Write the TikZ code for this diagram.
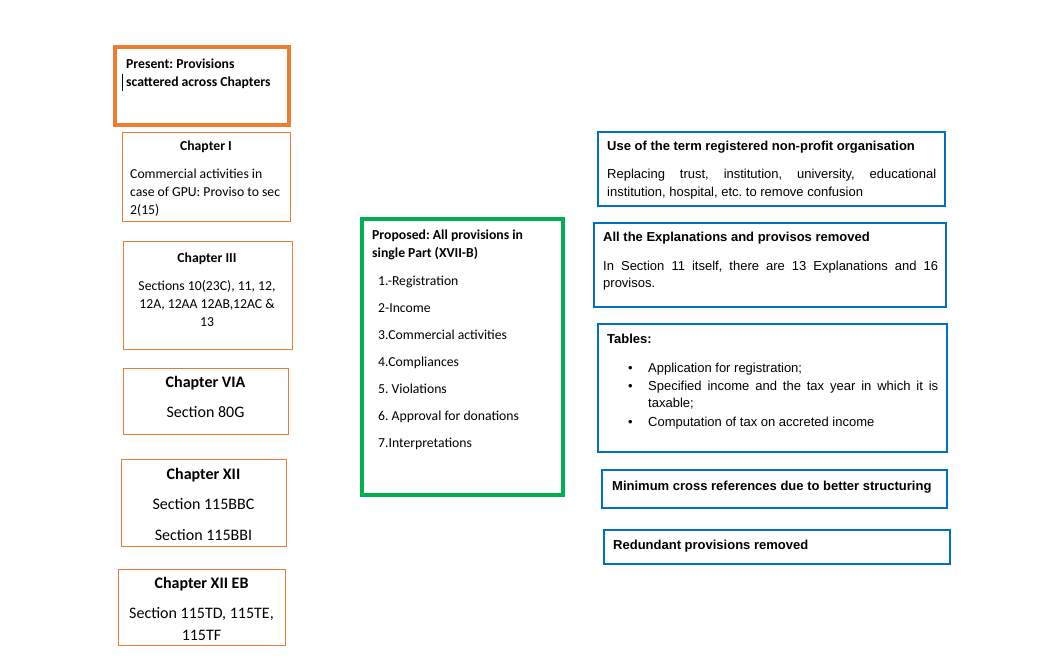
\documentclass[tikz,border=0pt]{standalone}
\usepackage{fontspec}
\setmainfont{Carlito}
\newfontfamily\rfont{Liberation Sans}
\definecolor{orng}{HTML}{ED7D31}
\definecolor{grn}{HTML}{00B050}
\definecolor{blu}{HTML}{0070C0}
\frenchspacing
\hyphenpenalty=10000
\begin{document}
\begin{tikzpicture}[x=1pt,y=-1pt,
  obox/.style={draw=orng,line width=1pt,inner sep=0pt},
  othick/.style={draw=orng,line width=4pt,inner sep=0pt},
  gbox/.style={draw=grn,line width=4pt,inner sep=0pt},
  bbox/.style={draw=blu,line width=1.8pt,inner sep=0pt},
  lt/.style={anchor=base west,inner sep=0pt,font=\fontsize{13.7}{18}\selectfont},
  ltb/.style={anchor=base west,inner sep=0pt,font=\bfseries\fontsize{13.7}{18}\selectfont},
  ct/.style={anchor=base,inner sep=0pt,font=\fontsize{13.7}{18}\selectfont},
  ctb/.style={anchor=base,inner sep=0pt,font=\bfseries\fontsize{13.7}{18}\selectfont},
  cbig/.style={anchor=base,inner sep=0pt,font=\fontsize{16}{18}\selectfont},
  cbigb/.style={anchor=base,inner sep=0pt,font=\bfseries\fontsize{16}{18}\selectfont},
  rt/.style={anchor=base west,inner sep=0pt,font=\rfont\fontsize{13}{17.5}\selectfont},
  rtb/.style={anchor=base west,inner sep=0pt,font=\rfont\bfseries\fontsize{13}{17.5}\selectfont},
  rj/.style={anchor=north west,inner sep=0pt,font=\rfont\fontsize{13}{17.5}\selectfont,align=justify}]
\useasboundingbox (0,0) rectangle (1055,663);
% boxes
\node[othick,minimum width=174pt,minimum height=78pt] (pres) at (202,86) {};
\node[obox,minimum width=168pt,minimum height=89pt] (ch1) at (206,177.5) {};
\node[obox,minimum width=169pt,minimum height=107pt] (ch3) at (207.5,295.5) {};
\node[obox,minimum width=165pt,minimum height=66pt] (ch6) at (205.5,401) {};
\node[obox,minimum width=165pt,minimum height=87pt] (ch12) at (203.5,502.5) {};
\node[obox,minimum width=167pt,minimum height=76pt] (ch12eb) at (201.5,607) {};
\node[gbox,minimum width=201pt,minimum height=276pt] (prop) at (462.5,357) {};
\node[bbox,minimum width=347pt,minimum height=74pt] (b1) at (771.5,169) {};
\node[bbox,minimum width=352pt,minimum height=84pt] (b2) at (770,265) {};
\node[bbox,minimum width=349pt,minimum height=128pt] (b3) at (772.5,388) {};
\node[bbox,minimum width=345pt,minimum height=38pt] (b4) at (774.5,489) {};
\node[bbox,minimum width=346pt,minimum height=34pt] (b5) at (777,547) {};
% present
\node[ltb] (t0a) at (126,68.5) {Present: Provisions};
\node[ltb] (t0b) at (126,86.5) {scattered across Chapters};
\draw[line width=0.8pt] (122.5,74) -- (122.5,91);
% chapter I
\node[ctb] (t1) at (206,150.5) {Chapter I};
\node[lt] (t1a) at (130,178.5) {Commercial activities in};
\node[lt] (t1b) at (130,196.5) {case of GPU: Proviso to sec};
\node[lt] (t1c) at (130,214.5) {2(15)};
% chapter III
\node[ctb] (t3) at (207,262.5) {Chapter III};
\node[ct] (t3a) at (207,290.5) {Sections 10(23C), 11, 12,};
\node[ct] (t3b) at (207,308.5) {12A, 12AA 12AB,12AC \&};
\node[ct] (t3c) at (207,326.5) {13};
% chapter VIA
\node[cbigb] (t6) at (205.5,387.5) {Chapter VIA};
\node[cbig] (t6a) at (205.5,417.5) {Section 80G};
% chapter XII
\node[cbigb] (t12) at (203.5,479.5) {Chapter XII};
\node[cbig] (t12a) at (203.5,509.5) {Section 115BBC};
\node[cbig] (t12b) at (203.5,540.5) {Section 115BBI};
% chapter XII EB
\node[cbigb] (t12e) at (201.5,588.5) {Chapter XII EB};
\node[cbig] (t12ea) at (201.5,618.5) {Section 115TD, 115TE,};
\node[cbig] (t12eb) at (201.5,640.5) {115TF};
% proposed
\node[ltb] (pa) at (372,240) {Proposed: All provisions in};
\node[ltb] (pb) at (372,258) {single Part (XVII-B)};
\node[lt] (p1) at (378,285) {1.-Registration};
\node[lt] (p2) at (378,312) {2-Income};
\node[lt] (p3) at (378,339) {3.Commercial activities};
\node[lt] (p4) at (378,366) {4.Compliances};
\node[lt] (p5) at (378,393) {5. Violations};
\node[lt] (p6) at (378,420) {6. Approval for donations};
\node[lt] (p7) at (378,447) {7.Interpretations};
% right boxes
\node[rtb] (r1) at (607,151) {Use of the term registered non-profit organisation};
\node[rj,text width=329pt] (r1b) at (607,169) {Replacing trust, institution, university, educational institution, hospital, etc. to remove confusion};
\node[rtb] (r2) at (603,242) {All the Explanations and provisos removed};
\node[rj,text width=335pt] (r2b) at (603,260.5) {In Section 11 itself, there are 13 Explanations and 16 provisos.};
\node[rtb] (r3) at (607,343) {Tables:};
\node[rt] (bu1) at (628,372) {\textbullet};
\node[rt] (bu2) at (628,390) {\textbullet};
\node[rt] (bu3) at (628,426) {\textbullet};
\node[rt] (r3a) at (648,372) {Application for registration;};
\node[rj,text width=290pt] (r3b) at (648,380.5) {Specified income and the tax year in which it is taxable;};
\node[rt] (r3c) at (648,426) {Computation of tax on accreted income};
\node[rtb] (r4) at (612,490) {Minimum cross references due to better structuring};
\node[rtb] (r5) at (613,549) {Redundant provisions removed};
\end{tikzpicture}
\end{document}
